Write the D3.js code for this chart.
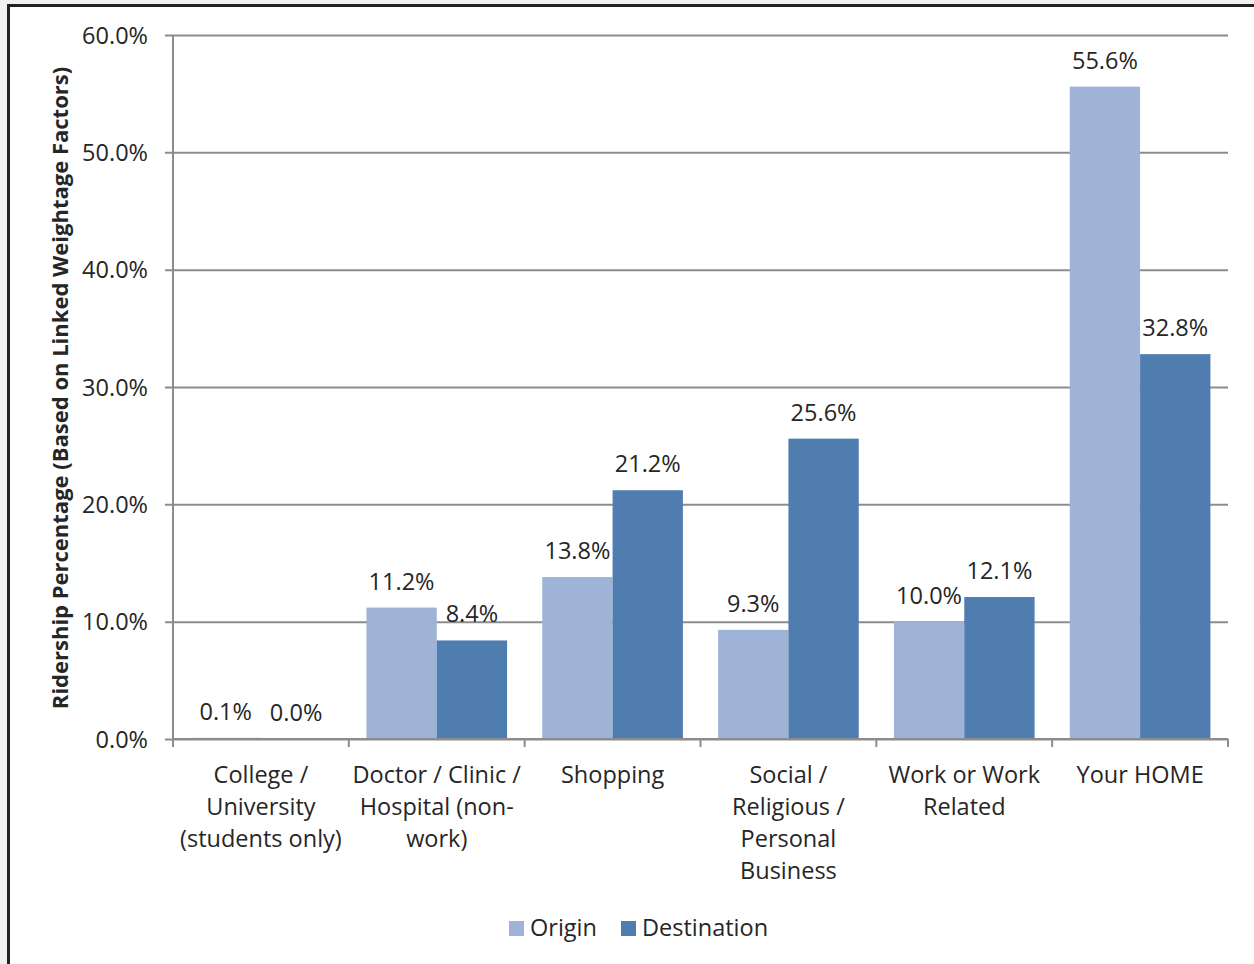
<!DOCTYPE html>
<html>
<head>
<meta charset="utf-8">
<script src="https://cdn.jsdelivr.net/npm/d3@7/dist/d3.min.js"></script>
<style>
  html, body { margin: 0; padding: 0; background: #f0f0f0; }
  svg { display: block; }
  text { font-family: "Open Sans", Lato, sans-serif; fill: #262626; }
</style>
</head>
<body>
<script>
// Trip purpose categories (each label split into its display lines)
const categories = [
  ["College /", "University", "(students only)"],
  ["Doctor / Clinic /", "Hospital (non-", "work)"],
  ["Shopping"],
  ["Social /", "Religious /", "Personal", "Business"],
  ["Work or Work", "Related"],
  ["Your HOME"]
];
const seriesNames = ["Origin", "Destination"];
const originValues = [0.1, 11.2, 13.8, 9.3, 10.0, 55.6];
const destinationValues = [0.0, 8.4, 21.2, 25.6, 12.1, 32.8];
const yTicks = [0, 10, 20, 30, 40, 50, 60];
const colors = ["#9fb3d7", "#4f7db0"];

const W = 1254, H = 964;
const margin = { left: 173, right: 26, top: 35, bottom: 225 };
const fs = 23.5;

const svg = d3.select("body").append("svg").attr("width", W).attr("height", H);

// white page with a dark frame
svg.append("rect").attr("x", 8.5).attr("y", 5.5).attr("width", W + 10).attr("height", H + 10)
  .attr("fill", "#ffffff").attr("stroke", "#222222").attr("stroke-width", 3);

const x0 = d3.scaleBand().domain(d3.range(categories.length))
  .range([margin.left, W - margin.right]).paddingInner(0).paddingOuter(0);
const x1 = d3.scaleBand().domain([0, 1]).range([0, x0.bandwidth()]).paddingOuter(0.25).paddingInner(0);
const y = d3.scaleLinear().domain([0, 60]).range([H - margin.bottom, margin.top]);

const gridColor = "#8c8c8c";

// horizontal gridlines + y axis
const yAxis = d3.axisLeft(y).tickValues(yTicks).tickSize(-(W - margin.right - margin.left))
  .tickFormat(d => d.toFixed(1) + "%");
const gy = svg.append("g").attr("transform", `translate(${margin.left},0)`).call(yAxis);
gy.select(".domain").remove();
gy.selectAll(".tick line").attr("stroke", gridColor).attr("stroke-width", 2).attr("x1", -8);
gy.selectAll(".tick text").attr("font-size", fs).attr("font-family", "'Open Sans', sans-serif")
  .attr("fill", "#262626").attr("dy", "0.35em").attr("x", -25);
svg.append("line").attr("x1", margin.left).attr("x2", margin.left)
  .attr("y1", y(60)).attr("y2", y(0)).attr("stroke", gridColor).attr("stroke-width", 2);

// bars
const data = categories.map((c, i) => [originValues[i], destinationValues[i]]);
const groups = svg.append("g").selectAll("g").data(data).join("g")
  .attr("transform", (d, i) => `translate(${x0(i)},0)`);
groups.selectAll("rect").data(d => d).join("rect")
  .attr("x", (d, j) => x1(j)).attr("width", x1.bandwidth())
  .attr("y", d => y(d)).attr("height", d => y(0) - y(d))
  .attr("fill", (d, j) => colors[j]);

// value labels
groups.selectAll("text.val").data(d => d).join("text").attr("class", "val")
  .attr("x", (d, j) => x1(j) + x1.bandwidth() / 2)
  .attr("y", d => y(d) - 18)
  .attr("text-anchor", "middle").attr("font-size", fs)
  .text(d => d.toFixed(1) + "%");

// x axis baseline and category ticks
const baseY = y(0);
svg.append("line").attr("x1", margin.left).attr("x2", W - margin.right)
  .attr("y1", baseY).attr("y2", baseY).attr("stroke", gridColor).attr("stroke-width", 2);
const tickXs = d3.range(categories.length + 1).map(i => margin.left + i * x0.bandwidth());
svg.append("g").selectAll("line").data(tickXs).join("line")
  .attr("x1", d => d).attr("x2", d => d).attr("y1", baseY).attr("y2", baseY + 8)
  .attr("stroke", gridColor).attr("stroke-width", 2);

// category labels
const catG = svg.append("g").selectAll("text").data(categories).join("text")
  .attr("text-anchor", "middle").attr("font-size", fs)
  .attr("transform", (d, i) => `translate(${x0(i) + x0.bandwidth() / 2},${baseY + 44})`);
catG.selectAll("tspan").data(d => d).join("tspan")
  .attr("x", 0).attr("y", (d, k) => k * 32).text(d => d);

// y axis title
svg.append("text")
  .attr("transform", `translate(68,${(y(0) + y(60)) / 2 + 1}) rotate(-90)`)
  .attr("text-anchor", "middle").attr("font-size", 22).attr("font-weight", "bold")
  .attr("fill", "#000")
  .text("Ridership Percentage (Based on Linked Weightage Factors)");

// legend
const legend = svg.append("g").attr("transform", "translate(509,928)");
const legX = [0, 112];
seriesNames.forEach((name, i) => {
  const g = legend.append("g").attr("transform", `translate(${legX[i]},0)`);
  g.append("rect").attr("x", 0).attr("y", -7).attr("width", 15).attr("height", 15).attr("fill", colors[i]);
  g.append("text").attr("x", 21).attr("y", 0).attr("dy", "0.35em").attr("font-size", fs).text(name);
});
</script>
</body>
</html>
